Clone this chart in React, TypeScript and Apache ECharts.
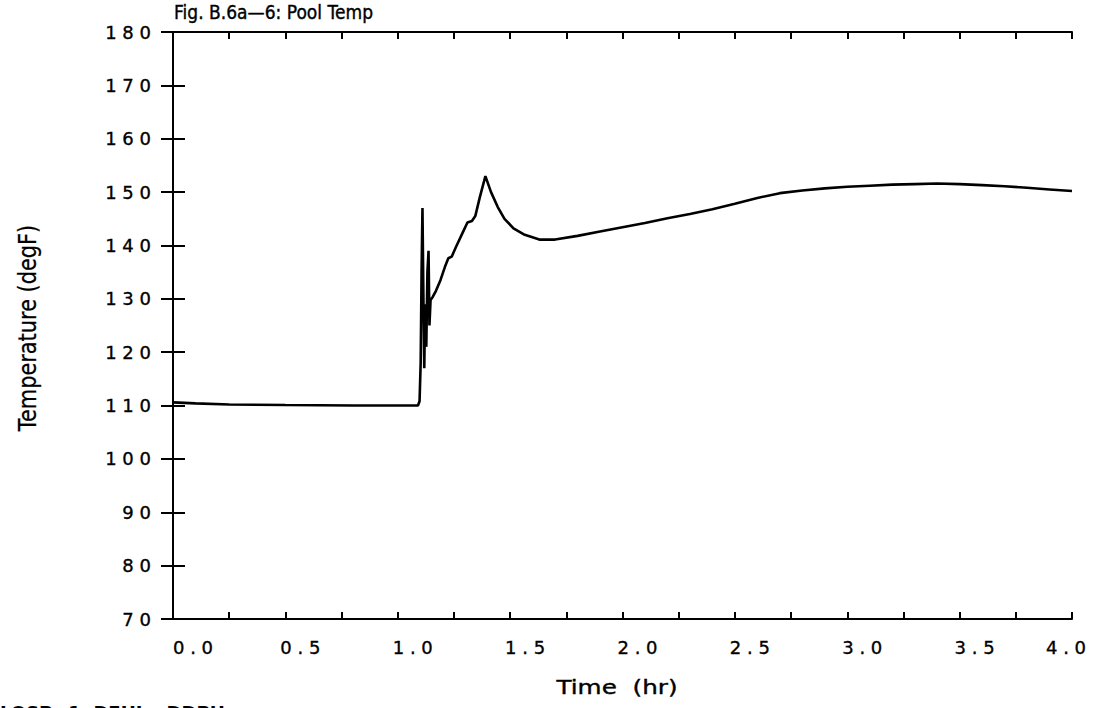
import React, { useEffect, useRef } from "react";
import * as echarts from "echarts";

const titleText = "Fig. B.6a\u20146: Pool Temp";
const xAxisName = "Time  (hr)";
const yAxisName = "Temperature (degF)";
const footerText = "LOSP,  1  DEHL,  DDPH";

const timeHr = [
  0, 0.1, 0.25, 0.5, 0.8, 1.0, 1.09, 1.097, 1.102, 1.106, 1.11, 1.114, 1.118,
  1.122, 1.127, 1.132, 1.137, 1.141, 1.146, 1.155, 1.17, 1.19, 1.21, 1.225,
  1.24, 1.26, 1.29, 1.31, 1.33, 1.345, 1.365, 1.39, 1.415, 1.445, 1.475, 1.515,
  1.565, 1.63, 1.7, 1.8, 1.9, 2.0, 2.1, 2.2, 2.3, 2.4, 2.5, 2.6, 2.7, 2.8, 2.9,
  3.0, 3.1, 3.2, 3.3, 3.4, 3.5, 3.6, 3.7, 3.8, 3.9, 4.0,
];
const poolTemp = [
  110.6, 110.4, 110.2, 110.1, 110.0, 110.0, 110.0, 110.8, 118, 135, 147, 131,
  117, 129, 121, 135, 139, 125, 129.8, 130.3, 131.5, 133.5, 136, 137.6, 137.9,
  139.8, 142.5, 144.3, 144.6, 145.5, 149, 153, 150, 147.2, 145, 143.2, 142,
  141.1, 141.1, 141.8, 142.6, 143.4, 144.2, 145.1, 145.9, 146.8, 147.8, 148.9,
  149.8, 150.3, 150.7, 151.0, 151.2, 151.4, 151.5, 151.6, 151.5, 151.3, 151.1,
  150.8, 150.5, 150.2,
];

const FONT = "'DejaVu Sans', sans-serif";

export default function App() {
  const ref = useRef<HTMLDivElement>(null);
  useEffect(() => {
    if (!ref.current) return;
    const chart = echarts.init(ref.current, null, { renderer: "svg" });
    const data = timeHr.map((t, i) => [t, poolTemp[i]]);
    const spaced = (s: string) => s.split("").join(" ");
    const xLabel = (v: number) => {
      if (Math.abs(v * 2 - Math.round(v * 2)) > 1e-6) return "";
      const s = spaced(v.toFixed(1));
      if (v === 0) return `{first|${s}}`;
      if (v === 4) return `{last|${s}}`;
      return `{mid|${s}}`;
    };
    const labelText = {
      color: "#000",
      fontSize: 18,
      fontFamily: FONT,
      textBorderColor: "#000",
      textBorderWidth: 0.35,
    };
    const axisLine = { show: true, lineStyle: { color: "#000", width: 2 } };
    const tickX = { show: true, inside: true, length: 7, lineStyle: { color: "#000", width: 2 } };
    const tickY = { show: true, inside: true, length: 12, lineStyle: { color: "#000", width: 2 } };
    chart.setOption({
      animation: false,
      backgroundColor: "#fff",
      grid: { left: 173, right: 23, top: 32, bottom: 89, containLabel: false },
      xAxis: [
        {
          type: "value",
          position: "bottom",
          min: 0,
          max: 4,
          interval: 0.25,
          axisLine,
          axisTick: tickX,
          axisLabel: {
            formatter: xLabel,
            ...labelText,
            margin: 19,
            showMinLabel: true,
            showMaxLabel: true,
            rich: {
              first: { ...labelText, padding: [0, 0, 0, 40] },
              mid: { ...labelText, padding: [0, 0, 0, 30] },
              last: { ...labelText, padding: [0, 12, 0, 0] },
            },
          },
          splitLine: { show: false },
        },
        {
          type: "value",
          position: "top",
          min: 0,
          max: 4,
          interval: 0.25,
          axisLine,
          axisTick: tickX,
          axisLabel: { show: false },
          splitLine: { show: false },
        },
      ],
      yAxis: [
        {
          type: "value",
          position: "left",
          min: 70,
          max: 180,
          interval: 10,
          axisLine,
          axisTick: tickY,
          axisLabel: {
            formatter: (v: number) => spaced(String(v)),
            ...labelText,
            margin: 22,
          },
          splitLine: { show: false },
        },
        {
          type: "value",
          position: "right",
          min: 70,
          max: 180,
          interval: 10,
          axisLine,
          axisTick: tickY,
          axisLabel: { show: false },
          splitLine: { show: false },
        },
      ],
      series: [
        {
          type: "line",
          xAxisIndex: 0,
          yAxisIndex: 0,
          data,
          showSymbol: false,
          symbol: "none",
          lineStyle: { color: "#000", width: 2.6 },
        },
      ],
      graphic: [
        {
          type: "text",
          x: 174,
          y: 12,
          scaleX: 0.9,
          style: {
            text: titleText,
            fill: "#000",
            font: `19px ${FONT}`,
            verticalAlign: "middle",
            stroke: "#000",
            lineWidth: 0.4,
          },
        },
        {
          type: "text",
          x: 617,
          y: 688,
          scaleX: 1.3,
          style: {
            text: xAxisName,
            fill: "#000",
            font: `19px ${FONT}`,
            align: "center",
            verticalAlign: "middle",
            stroke: "#000",
            lineWidth: 0.35,
          },
        },
        {
          type: "text",
          x: 27,
          y: 328,
          rotation: Math.PI / 2,
          scaleX: 0.87,
          style: {
            text: yAxisName,
            fill: "#000",
            font: `24px ${FONT}`,
            align: "center",
            verticalAlign: "middle",
            stroke: "#000",
            lineWidth: 0.25,
          },
        },
        {
          type: "text",
          left: 0,
          top: 703,
          style: { text: footerText, fill: "#000", font: `bold 18px ${FONT}` },
        },
      ],
    });
    return () => chart.dispose();
  }, []);
  return (
    <div
      ref={ref}
      style={{ position: "absolute", left: 0, top: 0, width: 1095, height: 708 }}
    />
  );
}
